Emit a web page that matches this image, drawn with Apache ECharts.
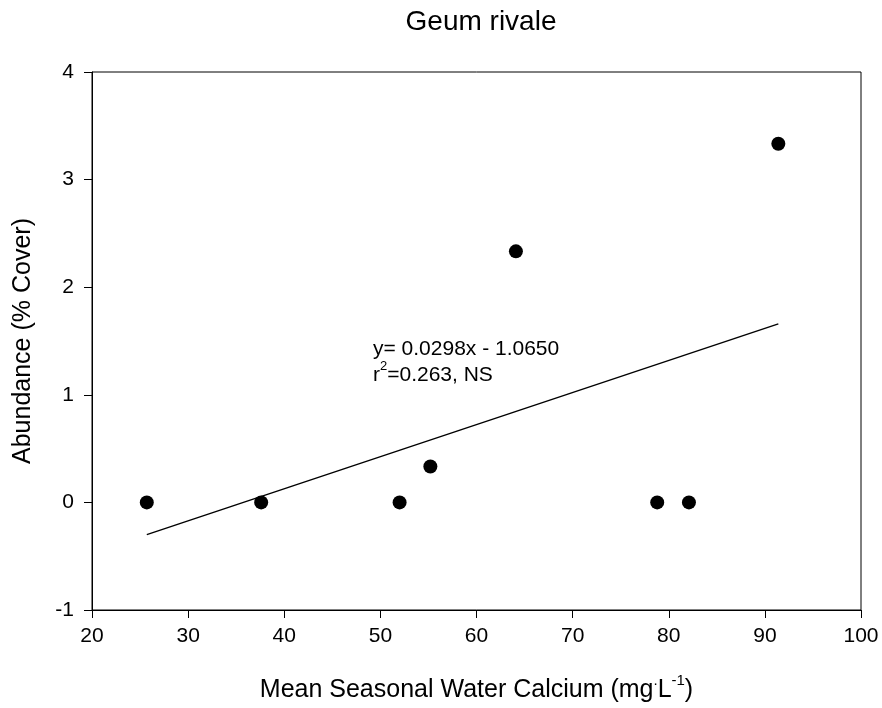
<!DOCTYPE html>
<html>
<head>
<meta charset="utf-8">
<script src="https://cdn.jsdelivr.net/npm/echarts@6/dist/echarts.min.js"></script>
<style>html,body{margin:0;padding:0;background:#fff;}#c{width:882px;height:708px;}</style>
</head>
<body>
<div id="c"></div>
<script>
const chartTitle = 'Geum rivale';
const calcium = [25.7, 37.6, 52.0, 55.2, 64.1, 78.8, 82.1, 91.4];
const abundance = [0, 0, 0, 0.333, 2.333, 0, 0, 3.333];
const slope = 0.0298;
const intercept = -1.0650;
const xTicks = [20, 30, 40, 50, 60, 70, 80, 90, 100];
const yTicks = [-1, 0, 1, 2, 3, 4];

const FONT = "'Liberation Sans', Arial, sans-serif";
const points = calcium.map((x, i) => [x, abundance[i]]);
const xMin = Math.min(...calcium), xMax = Math.max(...calcium);
const fitLine = [[xMin, slope * xMin + intercept], [xMax, slope * xMax + intercept]];

const chart = echarts.init(document.getElementById('c'));
chart.setOption({
  animation: false,
  backgroundColor: '#fff',
  title: {
    text: chartTitle, left: 476, top: 3, textAlign: 'center',
    textStyle: { fontFamily: FONT, fontSize: 28, fontWeight: 'normal', color: '#000' }
  },
  grid: { left: 92, right: 21, top: 72, bottom: 97, show: true, borderColor: '#000', borderWidth: 1 },
  xAxis: {
    type: 'value', min: xTicks[0], max: xTicks[xTicks.length - 1], interval: 10,
    name: '{n|Mean Seasonal Water Calcium (mg}{d|.}{n|L}{s|-1}{n|)}',
    nameLocation: 'middle', nameGap: 63,
    nameTextStyle: {
      rich: {
        n: { fontFamily: FONT, fontSize: 25, color: '#000', lineHeight: 30, verticalAlign: 'bottom' },
        s: { fontFamily: FONT, fontSize: 15, color: '#000', lineHeight: 30, verticalAlign: 'top' },
        d: { fontFamily: FONT, fontSize: 15, color: '#000', lineHeight: 30, verticalAlign: 'top' }
      }
    },
    axisLine: { show: true, onZero: false, lineStyle: { color: '#000', width: 1 } },
    axisTick: { show: true, inside: false, length: 8, lineStyle: { color: '#000' } },
    axisLabel: { fontFamily: FONT, fontSize: 21, color: '#000', margin: 16 },
    splitLine: { show: false }
  },
  yAxis: {
    type: 'value', min: yTicks[0], max: yTicks[yTicks.length - 1], interval: 1,
    name: 'Abundance (% Cover)', nameLocation: 'middle', nameGap: 56, nameRotate: 90,
    nameTextStyle: { fontFamily: FONT, fontSize: 25, color: '#000' },
    axisLine: { show: true, onZero: false, lineStyle: { color: '#000', width: 1 } },
    axisTick: { show: true, inside: false, length: 8, lineStyle: { color: '#000' } },
    axisLabel: { fontFamily: FONT, fontSize: 21, color: '#000', margin: 18 },
    splitLine: { show: false }
  },
  graphic: [
    {
      type: 'text', left: 373, top: 339,
      style: { text: 'y= 0.0298x - 1.0650', font: "21px 'Liberation Sans', Arial, sans-serif", fill: '#000' }
    },
    {
      type: 'text', left: 373, top: 360,
      style: {
        text: '{a|r}{b|2}{a|=0.263, NS}',
        rich: {
          a: { fontFamily: FONT, fontSize: 21, color: '#000', lineHeight: 26, verticalAlign: 'bottom' },
          b: { fontFamily: FONT, fontSize: 13, color: '#000', lineHeight: 26, verticalAlign: 'top' }
        }
      }
    }
  ],
  series: [
    {
      type: 'line', data: fitLine, symbol: 'none', silent: true,
      lineStyle: { color: '#000', width: 1.4 }
    },
    {
      type: 'scatter', data: points, symbol: 'circle', symbolSize: 14,
      itemStyle: { color: '#000', opacity: 1 }
    }
  ]
});
</script>
</body>
</html>
